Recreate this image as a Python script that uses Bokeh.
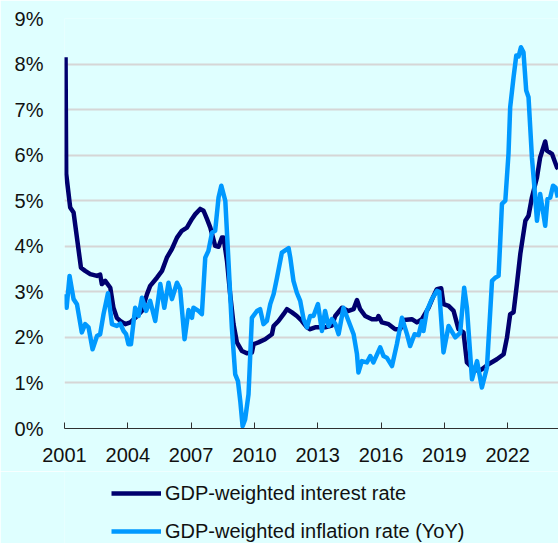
from bokeh.plotting import figure
from bokeh.layouts import column
from bokeh.models import FixedTicker, PrintfTickFormatter, Legend, LegendItem, Range1d
from bokeh.embed import file_html
from bokeh.resources import INLINE

# ---- data (decimal years, percent) ----
tick_years = [2001, 2004, 2007, 2010, 2013, 2016, 2019, 2022]
pct_ticks = [0, 1, 2, 3, 4, 5, 6, 7, 8, 9]

interest_t = [2001.05, 2001.08, 2001.27, 2001.43, 2001.78, 2001.98, 2002.22, 2002.54, 2002.69, 2002.77,
              2002.93, 2003.17, 2003.32, 2003.48, 2003.64, 2003.88, 2004.12, 2004.35, 2004.67, 2004.91,
              2005.06, 2005.38, 2005.62, 2005.85, 2006.09, 2006.33, 2006.56, 2006.80, 2007.04, 2007.19,
              2007.43, 2007.59, 2007.75, 2007.91, 2008.14, 2008.30, 2008.46, 2008.54, 2008.70, 2008.85,
              2009.01, 2009.17, 2009.41, 2009.64, 2009.88, 2009.96, 2010.19, 2010.51, 2010.83, 2010.91,
              2011.14, 2011.38, 2011.54, 2011.78, 2012.01, 2012.25, 2012.49, 2012.64, 2012.88, 2013.35,
              2013.67, 2013.83, 2014.15, 2014.46, 2014.70, 2014.86, 2015.01, 2015.25, 2015.57, 2015.81,
              2015.88, 2016.04, 2016.36, 2016.67, 2016.91, 2017.07, 2017.46, 2017.70, 2017.94, 2018.25,
              2018.49, 2018.65, 2018.85, 2018.96, 2019.20, 2019.44, 2019.67, 2019.91, 2020.07, 2020.31,
              2020.62, 2020.78, 2021.09, 2021.49, 2021.81, 2021.97, 2022.12, 2022.28, 2022.44, 2022.60,
              2022.84, 2022.99, 2023.15, 2023.39, 2023.54, 2023.78, 2023.86, 2024.10, 2024.34, 2024.40]
interest_v = [8.15, 5.59, 4.85, 4.74, 3.53, 3.46, 3.39, 3.35, 3.38, 3.17,
              3.24, 3.09, 2.65, 2.43, 2.36, 2.29, 2.33, 2.43, 2.58, 2.95,
              3.13, 3.31, 3.46, 3.75, 3.94, 4.19, 4.34, 4.41, 4.60, 4.70,
              4.82, 4.78, 4.60, 4.41, 4.01, 3.99, 4.19, 4.19, 3.68, 2.95,
              2.29, 1.89, 1.70, 1.65, 1.67, 1.85, 1.89, 1.96, 2.07, 2.25,
              2.36, 2.51, 2.62, 2.55, 2.47, 2.36, 2.22, 2.18, 2.22, 2.22,
              2.26, 2.47, 2.65, 2.58, 2.62, 2.82, 2.62, 2.47, 2.40, 2.40,
              2.47, 2.33, 2.29, 2.18, 2.18, 2.38, 2.40, 2.33, 2.40, 2.65,
              2.91, 3.06, 3.08, 2.73, 2.69, 2.58, 2.18, 2.11, 1.45, 1.34,
              1.26, 1.30, 1.41, 1.52, 1.63, 2.00, 2.51, 2.55, 3.17, 3.83,
              4.56, 4.67, 5.07, 5.51, 5.95, 6.30, 6.10, 6.03, 5.73, 5.70]

inflation_t = [2001.05, 2001.10, 2001.24, 2001.43, 2001.59, 2001.82, 2001.98, 2002.14, 2002.33, 2002.54,
               2002.69, 2002.85, 2003.06, 2003.25, 2003.48, 2003.64, 2003.80, 2003.92, 2004.03, 2004.15,
               2004.35, 2004.51, 2004.67, 2004.87, 2005.06, 2005.30, 2005.54, 2005.73, 2005.93, 2006.09,
               2006.33, 2006.48, 2006.69, 2006.88, 2007.04, 2007.11, 2007.35, 2007.51, 2007.67, 2007.82,
               2007.99, 2008.14, 2008.30, 2008.43, 2008.62, 2008.77, 2008.93, 2009.09, 2009.22, 2009.33,
               2009.44, 2009.56, 2009.72, 2009.88, 2010.12, 2010.27, 2010.43, 2010.59, 2010.75, 2010.91,
               2011.07, 2011.30, 2011.62, 2011.70, 2011.85, 2012.01, 2012.17, 2012.33, 2012.49, 2012.64,
               2012.80, 2013.01, 2013.20, 2013.35, 2013.51, 2013.67, 2013.83, 2013.99, 2014.22, 2014.46,
               2014.70, 2014.86, 2014.93, 2015.09, 2015.33, 2015.49, 2015.64, 2015.96, 2016.12, 2016.28,
               2016.52, 2016.75, 2016.99, 2017.23, 2017.38, 2017.59, 2017.78, 2017.94, 2018.01, 2018.17,
               2018.41, 2018.65, 2018.76, 2018.96, 2019.20, 2019.52, 2019.75, 2019.94, 2020.07, 2020.31,
               2020.55, 2020.78, 2021.02, 2021.26, 2021.41, 2021.57, 2021.65, 2021.73, 2021.89, 2022.04,
               2022.12, 2022.28, 2022.41, 2022.52, 2022.63, 2022.75, 2022.88, 2022.99, 2023.15, 2023.27,
               2023.39, 2023.54, 2023.67, 2023.78, 2023.89, 2024.02, 2024.15, 2024.27, 2024.38]
inflation_v = [2.95, 2.65, 3.35, 2.84, 2.73, 2.11, 2.29, 2.22, 1.74, 2.03,
               2.07, 2.51, 2.97, 2.29, 2.25, 2.30, 2.14, 2.07, 1.85, 1.85,
               2.65, 2.47, 2.87, 2.58, 2.80, 2.36, 3.17, 2.65, 3.20, 2.84,
               3.20, 3.06, 1.96, 2.60, 2.43, 2.65, 2.58, 2.51, 3.75, 3.90,
               4.30, 4.34, 5.07, 5.33, 5.00, 3.68, 2.22, 1.19, 1.04, 0.60,
               0.05, 0.20, 0.75, 2.43, 2.58, 2.62, 2.29, 2.36, 2.73, 2.95,
               3.31, 3.86, 3.96, 3.75, 3.24, 2.98, 2.80, 2.40, 2.22, 2.47,
               2.47, 2.73, 2.14, 2.58, 2.25, 2.40, 2.30, 2.07, 2.65, 2.36,
               2.07, 1.63, 1.23, 1.48, 1.45, 1.59, 1.45, 1.78, 1.59, 1.55,
               1.37, 1.85, 2.43, 2.07, 1.81, 2.07, 2.05, 2.36, 2.14, 2.58,
               2.84, 3.02, 3.00, 1.67, 2.25, 2.00, 2.10, 3.09, 2.65, 1.08,
               1.48, 0.90, 1.34, 3.24, 3.31, 3.35, 4.12, 4.93, 5.00, 6.03,
               7.05, 7.71, 8.19, 8.17, 8.37, 8.26, 7.42, 7.27, 5.95, 5.29,
               4.56, 5.15, 4.78, 4.45, 5.04, 5.07, 5.33, 5.29, 5.07]

series_labels = ["GDP-weighted interest rate", "GDP-weighted inflation rate (YoY)"]

# ---- style ----
BG = "#DFFFFF"
NAVY = "#00006E"
LIGHT = "#0099FF"
FONT = "Liberation Sans"
LW = 4.5

p = figure(width=558, height=471, output_backend="svg", toolbar_location=None,
           x_range=Range1d(2001.0, 2024.41), y_range=Range1d(0, 9),
           min_border_left=64, min_border_right=0, min_border_top=18, min_border_bottom=43)
p.background_fill_color = BG
p.border_fill_color = BG
p.outline_line_color = None

p.xgrid.visible = False
p.ygrid.ticker = FixedTicker(ticks=pct_ticks)
p.ygrid.grid_line_color = "#D6D6D6"
p.ygrid.grid_line_width = 2

p.yaxis.ticker = FixedTicker(ticks=pct_ticks)
p.yaxis.formatter = PrintfTickFormatter(format="%d%%")
p.yaxis.axis_line_color = None
p.yaxis.major_tick_line_color = None
p.yaxis.minor_tick_line_color = None
p.yaxis.major_label_text_font = FONT
p.yaxis.major_label_text_font_size = "20px"
p.yaxis.major_label_text_color = "#111111"
p.yaxis.major_label_standoff = 15

p.xaxis.ticker = FixedTicker(ticks=tick_years)
p.xaxis.axis_line_color = "#303030"
p.xaxis.axis_line_width = 1
p.xaxis.major_tick_line_color = "#303030"
p.xaxis.major_tick_in = 6
p.xaxis.major_tick_out = 0
p.xaxis.minor_tick_line_color = None
p.xaxis.major_label_text_font = FONT
p.xaxis.major_label_text_font_size = "20px"
p.xaxis.major_label_text_color = "#111111"
p.xaxis.major_label_standoff = 19

p.line(interest_t, interest_v, line_color=NAVY, line_width=LW, line_join="round")
p.line(inflation_t, inflation_v, line_color=LIGHT, line_width=LW, line_join="round")

# ---- legend strip below the chart (series drawn off-range, only keys show) ----
lg = figure(width=558, height=72, output_backend="svg", toolbar_location=None,
            x_range=Range1d(0, 1), y_range=Range1d(0, 1),
            x_axis_location=None, y_axis_location=None,
            min_border_left=0, min_border_right=0, min_border_top=0, min_border_bottom=0)
lg.background_fill_color = BG
lg.border_fill_color = BG
lg.outline_line_color = None
lg.xgrid.visible = False
lg.ygrid.visible = False
k1 = lg.line(interest_t, interest_v, line_color=NAVY, line_width=LW)
k2 = lg.line(inflation_t, inflation_v, line_color=LIGHT, line_width=LW)

legend = Legend(items=[LegendItem(label=series_labels[0], renderers=[k1]),
                       LegendItem(label=series_labels[1], renderers=[k2])],
                location=(47, 0), orientation="vertical",
                glyph_width=50, glyph_height=24, label_height=24, label_standoff=4,
                spacing=14, padding=0, margin=0,
                label_text_font=FONT, label_text_font_size="20px", label_text_color="#111111",
                background_fill_alpha=0, border_line_color=None)
lg.add_layout(legend, "center")

open("out.html", "w").write(file_html(column(p, lg, spacing=0), INLINE))
